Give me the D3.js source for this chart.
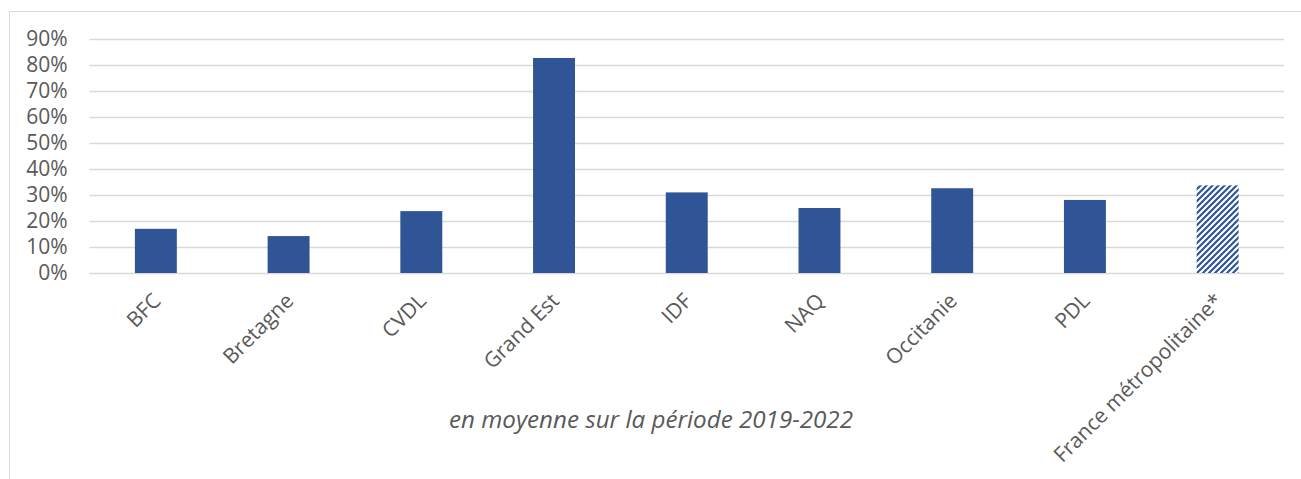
<!DOCTYPE html>
<html>
<head>
<meta charset="utf-8">
<script src="https://cdn.jsdelivr.net/npm/d3@7"></script>
<style>
  body { margin: 0; background: #fff; }
  svg { display: block; }
</style>
</head>
<body>
<svg id="chart"></svg>
<script>
const categories = ['BFC', 'Bretagne', 'CVDL', 'Grand Est', 'IDF', 'NAQ', 'Occitanie', 'PDL', 'France métropolitaine*'];
const values = [0.17, 0.142, 0.238, 0.827, 0.31, 0.25, 0.326, 0.281, 0.337];
const yTicks = [0, 0.1, 0.2, 0.3, 0.4, 0.5, 0.6, 0.7, 0.8, 0.9];
const axisTitle = 'en moyenne sur la période 2019-2022';
const hatched = ['France métropolitaine*'];

const width = 1301, height = 479;
const plotLeft = 89.5, plotRight = 1284, plotTop = 39, plotBottom = 273;
const blue = '#2F5597';
const font = '"Open Sans", "Noto Sans", sans-serif';

const svg = d3.select('#chart')
  .attr('width', width)
  .attr('height', height);

// hatch pattern for the national bar
const defs = svg.append('defs');
defs.append('pattern')
  .attr('id', 'hatch')
  .attr('patternUnits', 'userSpaceOnUse')
  .attr('width', 6)
  .attr('height', 6)
  .call(p => {
    p.append('rect').attr('width', 6).attr('height', 6).attr('fill', '#fff');
    p.append('path')
      .attr('d', 'M-1,1 l2,-2 M0,6 l6,-6 M5,7 l2,-2')
      .attr('stroke', blue)
      .attr('stroke-width', 2.2);
  });

// chart area border
svg.append('rect')
  .attr('x', 9.5)
  .attr('y', 11.5)
  .attr('width', 1310)
  .attr('height', 490)
  .attr('fill', 'none')
  .attr('stroke', '#D9D9D9');

const x = d3.scaleBand()
  .domain(categories)
  .range([plotLeft, plotRight])
  .paddingInner(0.684)
  .paddingOuter(0.342);

const y = d3.scaleLinear()
  .domain([0, 0.9])
  .range([plotBottom, plotTop]);

// gridlines + y labels
const yAxis = svg.append('g')
  .attr('transform', `translate(${plotLeft},0)`)
  .call(d3.axisLeft(y)
    .tickValues(yTicks)
    .tickSize(-(plotRight - plotLeft))
    .tickPadding(22)
    .tickFormat(d3.format('.0%')));
yAxis.select('.domain').remove();
yAxis.selectAll('line')
  .attr('stroke', '#D9D9D9')
  .attr('stroke-width', 1.3);
yAxis.selectAll('text')
  .attr('fill', '#595959')
  .style('font-family', font)
  .style('font-size', '21px');

// bars
svg.append('g')
  .selectAll('rect')
  .data(categories)
  .enter()
  .append('rect')
  .attr('x', d => x(d))
  .attr('y', (d, i) => y(values[i]))
  .attr('width', x.bandwidth())
  .attr('height', (d, i) => y(0) - y(values[i]))
  .attr('fill', d => hatched.includes(d) ? 'url(#hatch)' : blue);

// category labels
const xAxis = svg.append('g')
  .attr('transform', `translate(0,${plotBottom})`)
  .call(d3.axisBottom(x).tickSize(0).tickPadding(0));
xAxis.select('.domain').remove();
xAxis.selectAll('text')
  .attr('y', 0)
  .attr('dy', '0.35em')
  .attr('text-anchor', 'end')
  .attr('transform', 'translate(1,24) rotate(-45)')
  .attr('fill', '#595959')
  .style('font-family', font)
  .style('font-size', '21px');

// axis title
svg.append('text')
  .attr('x', 651)
  .attr('y', 428)
  .attr('text-anchor', 'middle')
  .attr('fill', '#595959')
  .attr('textLength', 404)
  .attr('lengthAdjust', 'spacingAndGlyphs')
  .style('font-family', font)
  .style('font-style', 'italic')
  .style('font-size', '24px')
  .text(axisTitle);
</script>
</body>
</html>
